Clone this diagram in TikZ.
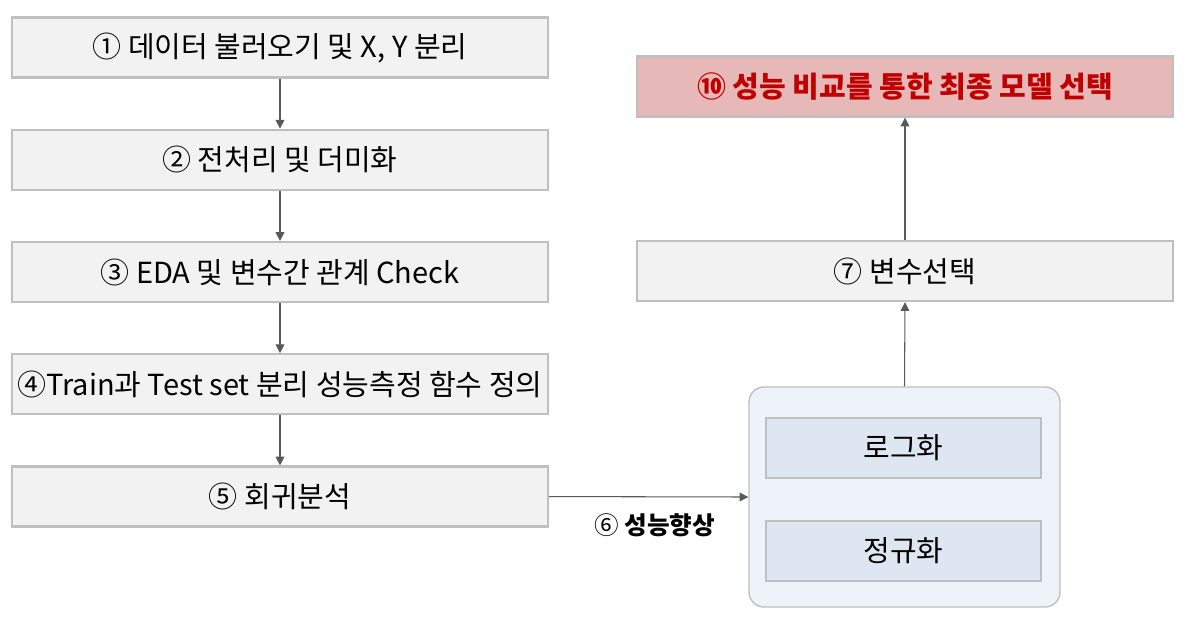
\documentclass[tikz,border=0pt]{standalone}
\usepackage{fontspec}
\setmainfont{Noto Sans CJK KR}
\usetikzlibrary{positioning,arrows.meta}
\definecolor{boxgray}{HTML}{F2F2F2}
\definecolor{edgegray}{HTML}{BFBFBF}
\definecolor{arrowgray}{HTML}{595959}
\definecolor{bestfill}{HTML}{E6B9B8}
\definecolor{bestred}{HTML}{C00000}
\definecolor{groupfill}{HTML}{EEF2F9}
\definecolor{stepfill}{HTML}{DEE6F1}
\tikzset{
    stepbox/.style={draw=edgegray, line width=1.3pt, fill=boxgray,
        minimum width=10.72cm, minimum height=1.2cm, inner sep=0pt, font=\fontsize{16.5}{20}\selectfont},
    subbox/.style={stepbox, fill=stepfill, minimum width=5.5cm},
    flow/.style={draw=arrowgray, line width=0.6pt, -{Triangle[length=5pt, width=5pt]}}
}
\begin{document}
\begin{tikzpicture}[x=0.02cm, y=-0.02cm]
    \useasboundingbox (0,0) rectangle (1199,619);
    % left column
    \node[stepbox] (load) at (280,47.5) {① 데이터 불러오기 및 X, Y 분리};
    \node[stepbox, below=1.0cm of load] (prep) {② 전처리 및 더미화};
    \node[stepbox, below=1.0cm of prep] (eda) {③ EDA 및 변수간 관계 Check};
    \node[stepbox, below=1.0cm of eda] (split) {④Train과 Test set 분리 성능측정 함수 정의};
    \node[stepbox, below=1.0cm of split] (reg) {⑤ 회귀분석};
    % right column
    \node[draw=edgegray, line width=0.8pt, fill=groupfill, rounded corners=0.3cm,
        minimum width=6.22cm, minimum height=4.4cm] (improve) at (904.5,497) {};
    \node[subbox] (logt) at (903.5,448) {로그화};
    \node[subbox] (norm) at (903.5,551) {정규화};
    \node[stepbox] (select) at (905,271) {⑦ 변수선택};
    \node[stepbox, fill=bestfill, text=bestred, font=\fontsize{16.5}{20}\selectfont\bfseries] (best) at (905,86.5)
        {⑩ 성능 비교를 통한 최종 모델 선택};
    % connectors
    \foreach \a/\b in {load/prep, prep/eda, eda/split, split/reg}
        \draw[flow] (\a) -- (\b);
    \draw[flow] (reg.east) -- node[below=0.2cm, xshift=0.12cm, font=\fontsize{14}{16}\selectfont]
        {⑥ \textbf{성능향상}} (improve.west);
    \draw[flow] (improve.north) -- (select.south);
    \draw[flow] (select.north) -- (best.south);
\end{tikzpicture}
\end{document}
